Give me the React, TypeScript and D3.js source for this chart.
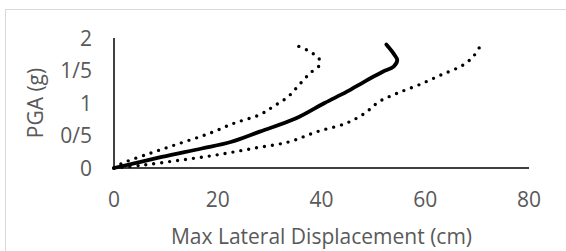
import React from 'react';
import * as d3 from 'd3';

// Mean curve (solid)
const meanX = [0, 9.2, 16.9, 22.5, 28.1, 35.0, 40.6, 44.8, 48.3, 51.8, 53.9, 54.6, 53.9, 52.5];
const meanY = [0, 0.17, 0.30, 0.40, 0.56, 0.76, 1.0, 1.17, 1.33, 1.48, 1.56, 1.66, 1.76, 1.9];

// Upper bound (dotted, left)
const upperX = [0, 1.5, 7.1, 12.7, 18.3, 23.2, 28.1, 30.8, 33.6, 35.7, 37.8, 39.6, 39.6, 37.8, 35.0];
const upperY = [0, 0.07, 0.23, 0.38, 0.53, 0.69, 0.82, 0.95, 1.10, 1.28, 1.46, 1.58, 1.67, 1.79, 1.89];

// Lower bound (dotted, right)
const lowerX = [0, 5.7, 12.7, 19.7, 26.7, 33.6, 39.2, 44.8, 48.3, 51.1, 54.6, 58.8, 63.0, 67.2, 69.2, 70.7];
const lowerY = [0, 0.046, 0.12, 0.2, 0.30, 0.40, 0.56, 0.69, 0.84, 1.02, 1.15, 1.28, 1.43, 1.58, 1.71, 1.89];

const xTicks = [0, 20, 40, 60, 80];
const yTicks = [0, 0.5, 1, 1.5, 2];
const yTickLabels = ['0', '0/5', '1', '1/5', '2'];

const W = 566;
const H = 251;
const FONT = "'Open Sans', sans-serif";
const GREY = '#595959';
const FS = 21;

export default function App() {
  const x = d3.scaleLinear().domain([0, 80]).range([114, 529]);
  const y = d3.scaleLinear().domain([0, 2]).range([168, 38]);

  const line = d3.line<[number, number]>()
    .x(d => x(d[0]))
    .y(d => y(d[1]))
    .curve(d3.curveCatmullRom.alpha(0.5));

  const zip = (xs: number[], ys: number[]) => xs.map((v, i) => [v, ys[i]] as [number, number]);

  return (
    <svg width={W} height={H} style={{ position: 'absolute', left: 0, top: 0 }}>
      <rect x={0} y={0} width={W} height={H} fill="#fff" />
      <rect x={5.5} y={9.5} width={W + 10} height={H + 10} fill="none" stroke="#d9d9d9" strokeWidth={1} />

      {/* axes */}
      <line x1={x(0)} x2={x(80)} y1={y(0)} y2={y(0)} stroke="#000" strokeWidth={1.5} />
      <line x1={x(0)} x2={x(0)} y1={y(0)} y2={y(2)} stroke="#000" strokeWidth={1.5} />

      {/* series */}
      <path d={line(zip(upperX, upperY)) || ''} fill="none" stroke="#000" strokeWidth={3.4}
        strokeLinecap="round" strokeDasharray="0 8" />
      <path d={line(zip(lowerX, lowerY)) || ''} fill="none" stroke="#000" strokeWidth={3.4}
        strokeLinecap="round" strokeDasharray="0 8" />
      <path d={line(zip(meanX, meanY)) || ''} fill="none" stroke="#000" strokeWidth={3.8}
        strokeLinecap="round" strokeLinejoin="round" />

      {/* tick labels */}
      {xTicks.map(t => (
        <text key={'x' + t} x={x(t)} y={207} textAnchor="middle" fontFamily={FONT} fontSize={FS} fill={GREY}>{t}</text>
      ))}
      {yTicks.map((t, i) => (
        <text key={'y' + t} x={92} y={y(t)} dy="0.36em" textAnchor="end" fontFamily={FONT} fontSize={FS} fill={GREY}>{yTickLabels[i]}</text>
      ))}

      {/* titles */}
      <text x={321.5} y={244} textAnchor="middle" fontFamily={FONT} fontSize={FS} fill={GREY}>Max Lateral Displacement (cm)</text>
      <text transform="translate(43,103) rotate(-90)" textAnchor="middle" fontFamily={FONT} fontSize={FS} fill={GREY}>PGA (g)</text>
    </svg>
  );
}
